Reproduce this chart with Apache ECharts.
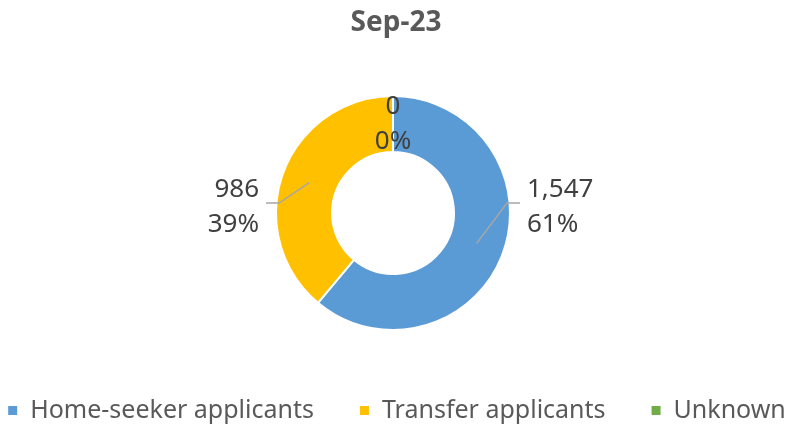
<!DOCTYPE html>
<html>
<head>
<meta charset="utf-8">
<script src="https://cdn.jsdelivr.net/npm/echarts@6/dist/echarts.min.js"></script>
<style>
  html, body { margin: 0; padding: 0; background: #fff; }
  #main { width: 792px; height: 427px; }
</style>
</head>
<body>
<div id="main"></div>
<script>
var titleText = 'Sep-23';
var categories = ['Home-seeker applicants', 'Transfer applicants', 'Unknown'];
var values = [1547, 986, 0];
var colors = ['#5B9BD5', '#FFC000', '#70AD47'];

// ring geometry
var CX = 393, CY = 213, R_IN = 61, R_OUT = 117;
var R_LINE = 89;      // leader lines start inside the ring
var LINE_DY = -10;    // horizontal part of the leader line
var LABEL_DY = -6;    // label block centre
var FONT = '"Noto Sans", sans-serif';

var total = values.reduce(function (a, b) { return a + b; }, 0);

// mid angle of a slice, radians clockwise from 12 o'clock
function midAngle(i) {
	var before = 0;
	for (var k = 0; k < i; k++) before += values[k];
	return (before + values[i] / 2) / total * Math.PI * 2;
}

var labelStyle = {
	show: true,
	position: 'outside',
	fontFamily: FONT,
	fontSize: 26,
	lineHeight: 35,
	color: '#404040',
	formatter: function (p) {
		var pct = total ? Math.round(p.value / total * 100) : 0;
		return p.value.toLocaleString('en-US') + '\n' + pct + '%';
	}
};

var chart = echarts.init(document.getElementById('main'));
chart.setOption({
	animation: false,
	color: colors,
	title: {
		text: titleText,
		left: 'center',
		top: 4,
		textStyle: { fontFamily: FONT, fontSize: 28, fontWeight: 'bold', color: '#595959' }
	},
	legend: {
		data: categories,
		left: 'center',
		top: 393,
		icon: 'rect',
		itemWidth: 11,
		itemHeight: 11,
		itemGap: 44,
		selectedMode: false,
		textStyle: { fontFamily: FONT, fontSize: 25, color: '#595959', padding: [0, 0, 0, 7] }
	},
	series: [{
		// the ring itself
		type: 'pie',
		z: 2,
		silent: true,
		center: [CX, CY],
		radius: [R_IN, R_OUT],
		startAngle: 90,
		clockwise: true,
		itemStyle: { borderColor: '#fff', borderWidth: 2 },
		label: { show: false },
		labelLine: { show: false },
		data: categories.map(function (c, i) {
			return { name: c, value: values[i] };
		})
	}, {
		// invisible copy on top, only for labels and leader lines
		type: 'pie',
		z: 3,
		silent: true,
		center: [CX, CY],
		radius: [R_IN, R_OUT],
		startAngle: 90,
		clockwise: true,
		itemStyle: { color: 'rgba(0,0,0,0)', borderWidth: 0 },
		label: labelStyle,
		labelLine: { show: true, lineStyle: { color: '#A6A6A6', width: 1.5 } },
		labelLayout: function (p) {
			var i = p.dataIndex;
			if (values[i] === 0) return {};
			var a = midAngle(i);
			var side = Math.sin(a) > 0 ? 1 : -1;
			var sx = CX + R_LINE * Math.sin(a), sy = CY - R_LINE * Math.cos(a);
			var ky = CY + LINE_DY;
			var kx = CX + side * 114, ex = CX + side * 127;
			return {
				x: ex + side * 7,
				y: CY + LABEL_DY,
				align: side > 0 ? 'left' : 'right',
				verticalAlign: 'middle',
				labelLinePoints: [[sx, sy], [kx, ky], [ex, ky]]
			};
		},
		data: categories.map(function (c, i) {
			var item = { name: c, value: values[i] };
			if (values[i] === 0) {
				item.label = { position: 'inside', offset: [0, 3] };
				item.labelLine = { show: false };
			}
			return item;
		})
	}]
});
</script>
</body>
</html>
